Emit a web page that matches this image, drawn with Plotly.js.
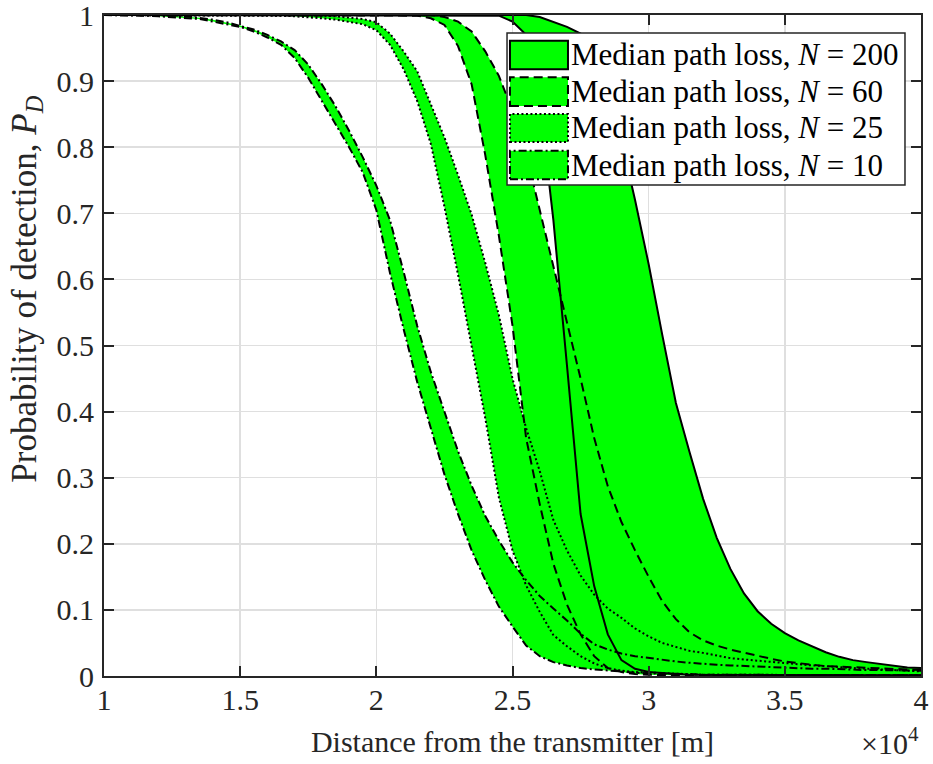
<!DOCTYPE html>
<html>
<head>
<meta charset="utf-8">
<script src="https://cdn.plot.ly/plotly-3.0.1.min.js"></script>
<style>
  html, body { margin: 0; padding: 0; background: #ffffff; }
  #chart { width: 933px; height: 764px; }
</style>
</head>
<body>
<div id="chart"></div>
<script>
// Distance from the transmitter [m]
const distance = [
  10000, 10500, 11000, 11500, 12000, 12500, 13000, 13500, 14000, 14500,
  15000, 15500, 16000, 16500, 17000, 17500, 18000, 18500, 19000, 19500,
  20000, 20500, 21000, 21500, 22000, 22500, 23000, 23500, 24000, 24500,
  25000, 25500, 26000, 26500, 27000, 27500, 28000, 28500, 29000, 29500,
  30000, 30500, 31000, 31500, 32000, 32500, 33000, 33500, 34000, 34500,
  35000, 35500, 36000, 36500, 37000, 37500, 38000, 38500, 39000, 39500,
  40000
];

// Probability of detection: lower / upper bound of each band
const pdLowN200 = [
  1.000, 1.000, 1.000, 1.000, 1.000, 1.000, 1.000, 1.000, 1.000, 1.000,
  1.000, 1.000, 1.000, 1.000, 1.000, 1.000, 1.000, 1.000, 1.000, 1.000,
  1.000, 1.000, 1.000, 1.000, 1.000, 1.000, 1.000, 1.000, 1.000, 0.999,
  0.990, 0.970, 0.870, 0.690, 0.470, 0.245, 0.136, 0.063, 0.024, 0.011,
  0.006, 0.004, 0.003, 0.002, 0.002, 0.002, 0.001, 0.001, 0.001, 0.001,
  0.001, 0.001, 0.001, 0.001, 0.001, 0.001, 0.001, 0.001, 0.001, 0.001,
  0.001
];
const pdHighN200 = [
  1.000, 1.000, 1.000, 1.000, 1.000, 1.000, 1.000, 1.000, 1.000, 1.000,
  1.000, 1.000, 1.000, 1.000, 1.000, 1.000, 1.000, 1.000, 1.000, 1.000,
  1.000, 1.000, 1.000, 1.000, 1.000, 1.000, 1.000, 1.000, 1.000, 1.000,
  1.000, 1.000, 0.997, 0.990, 0.982, 0.972, 0.945, 0.895, 0.810, 0.720,
  0.623, 0.516, 0.413, 0.339, 0.268, 0.209, 0.162, 0.125, 0.098, 0.079,
  0.065, 0.054, 0.045, 0.036, 0.029, 0.024, 0.021, 0.018, 0.015, 0.013,
  0.012
];

const pdLowN60 = [
  1.000, 1.000, 1.000, 1.000, 1.000, 1.000, 1.000, 1.000, 1.000, 1.000,
  1.000, 1.000, 1.000, 1.000, 1.000, 1.000, 1.000, 1.000, 1.000, 1.000,
  1.000, 1.000, 1.000, 0.999, 0.995, 0.985, 0.953, 0.895, 0.788, 0.666,
  0.530, 0.360, 0.260, 0.170, 0.108, 0.063, 0.030, 0.012, 0.006, 0.003,
  0.002, 0.001, 0.001, 0.001, 0.001, 0.001, 0.001, 0.001, 0.001, 0.001,
  0.001, 0.001, 0.001, 0.001, 0.001, 0.001, 0.001, 0.001, 0.001, 0.001,
  0.001
];
const pdHighN60 = [
  1.000, 1.000, 1.000, 1.000, 1.000, 1.000, 1.000, 1.000, 1.000, 1.000,
  1.000, 1.000, 1.000, 1.000, 1.000, 1.000, 1.000, 1.000, 1.000, 1.000,
  1.000, 1.000, 1.000, 1.000, 1.000, 0.997, 0.990, 0.975, 0.945, 0.908,
  0.855, 0.790, 0.705, 0.620, 0.535, 0.450, 0.360, 0.287, 0.233, 0.190,
  0.150, 0.113, 0.086, 0.066, 0.054, 0.046, 0.040, 0.035, 0.030, 0.026,
  0.022, 0.019, 0.017, 0.015, 0.014, 0.013, 0.012, 0.011, 0.010, 0.009,
  0.009
];

const pdLowN25 = [
  1.000, 1.000, 1.000, 1.000, 1.000, 1.000, 1.000, 1.000, 1.000, 1.000,
  1.000, 1.000, 0.999, 0.999, 0.998, 0.997, 0.995, 0.993, 0.990, 0.986,
  0.977, 0.955, 0.918, 0.870, 0.805, 0.710, 0.607, 0.500, 0.390, 0.270,
  0.190, 0.137, 0.097, 0.062, 0.045, 0.030, 0.019, 0.012, 0.008, 0.006,
  0.005, 0.004, 0.003, 0.003, 0.002, 0.002, 0.002, 0.002, 0.001, 0.001,
  0.001, 0.001, 0.001, 0.001, 0.001, 0.001, 0.001, 0.001, 0.001, 0.001,
  0.001
];
const pdHighN25 = [
  1.000, 1.000, 1.000, 1.000, 1.000, 1.000, 1.000, 1.000, 1.000, 1.000,
  1.000, 1.000, 1.000, 1.000, 0.999, 0.999, 0.999, 0.998, 0.996, 0.994,
  0.989, 0.972, 0.945, 0.915, 0.865, 0.815, 0.758, 0.698, 0.625, 0.546,
  0.450, 0.375, 0.310, 0.236, 0.190, 0.152, 0.123, 0.102, 0.088, 0.072,
  0.060, 0.050, 0.044, 0.038, 0.035, 0.031, 0.027, 0.025, 0.023, 0.021,
  0.019, 0.017, 0.016, 0.015, 0.013, 0.012, 0.011, 0.010, 0.009, 0.008,
  0.007
];

const pdLowN10 = [
  1.000, 1.000, 1.000, 0.999, 0.998, 0.997, 0.996, 0.994, 0.990, 0.986,
  0.982, 0.975, 0.966, 0.955, 0.935, 0.905, 0.870, 0.835, 0.800, 0.762,
  0.705, 0.610, 0.525, 0.445, 0.375, 0.305, 0.245, 0.190, 0.145, 0.105,
  0.075, 0.046, 0.030, 0.021, 0.016, 0.012, 0.010, 0.008, 0.006, 0.005,
  0.004, 0.004, 0.003, 0.003, 0.002, 0.002, 0.002, 0.002, 0.002, 0.001,
  0.001, 0.001, 0.001, 0.001, 0.001, 0.001, 0.001, 0.001, 0.001, 0.001,
  0.001
];
const pdHighN10 = [
  1.000, 1.000, 1.000, 1.000, 1.000, 0.999, 0.998, 0.996, 0.993, 0.989,
  0.984, 0.978, 0.970, 0.960, 0.947, 0.925, 0.895, 0.862, 0.825, 0.785,
  0.742, 0.690, 0.612, 0.530, 0.460, 0.400, 0.340, 0.288, 0.242, 0.205,
  0.172, 0.145, 0.121, 0.102, 0.084, 0.064, 0.048, 0.040, 0.034, 0.030,
  0.027, 0.024, 0.022, 0.020, 0.018, 0.017, 0.016, 0.015, 0.014, 0.013,
  0.013, 0.012, 0.011, 0.011, 0.010, 0.010, 0.009, 0.009, 0.009, 0.008,
  0.008
];

const bandLabels = [
  'Median path loss, <i>N</i> = 200',
  'Median path loss, <i>N</i> = 60',
  'Median path loss, <i>N</i> = 25',
  'Median path loss, <i>N</i> = 10'
];

const xTickValues = [10000, 15000, 20000, 25000, 30000, 35000, 40000];
const xTickLabels = ['1', '1.5', '2', '2.5', '3', '3.5', '4'];
const yTickValues = [0, 0.1, 0.2, 0.3, 0.4, 0.5, 0.6, 0.7, 0.8, 0.9, 1];
const yTickLabels = ['0', '0.1', '0.2', '0.3', '0.4', '0.5', '0.6', '0.7', '0.8', '0.9', '1'];

const xTitle = 'Distance from the transmitter [m]';
const yTitle = 'Probability of detection, <i>P</i><sub><i>D</i></sub>';

// ---- styling ----
const FILL = '#00ff00';
const INK = '#000000';
const AXIS = '#262626';
const FONT = 'Liberation Serif, Times New Roman, serif';
const dashes = ['solid', '9px,5px', '2px,2.5px', '8px,3px,2px,3px'];

const bands = [
  { low: pdLowN200, high: pdHighN200 },
  { low: pdLowN60,  high: pdHighN60 },
  { low: pdLowN25,  high: pdHighN25 },
  { low: pdLowN10,  high: pdHighN10 }
];

const traces = [];
// shaded regions first
bands.forEach((b, i) => {
  traces.push({
    type: 'scatter', mode: 'lines',
    x: distance.concat(distance.slice().reverse()),
    y: b.low.concat(b.high.slice().reverse()),
    fill: 'toself', fillcolor: FILL,
    line: { width: 0, color: FILL },
    hoverinfo: 'skip', showlegend: false, name: bandLabels[i]
  });
});
// boundary curves on top
bands.forEach((b, i) => {
  [b.low, b.high].forEach(arr => {
    traces.push({
      type: 'scatter', mode: 'lines',
      x: distance, y: arr,
      line: { color: INK, width: 2, dash: dashes[i] },
      hoverinfo: 'skip', showlegend: false
    });
  });
});

// ---- legend box (paper coordinates) ----
const legendBox = { x0: 0.4933, x1: 0.9804, y0: 0.7428, y1: 0.9728 };
const symX = [0.4969, 0.5679];
const rowsY = [[0.9179, 0.9611], [0.8623, 0.9057], [0.8079, 0.8502], [0.7514, 0.7947]];
const textX = 0.5695;

const shapes = [{
  type: 'rect', xref: 'paper', yref: 'paper', layer: 'above',
  x0: legendBox.x0, x1: legendBox.x1, y0: legendBox.y0, y1: legendBox.y1,
  fillcolor: '#ffffff', line: { color: AXIS, width: 1.5 }
}];
const annotations = [];
rowsY.forEach((r, i) => {
  shapes.push({
    type: 'rect', xref: 'paper', yref: 'paper', layer: 'above',
    x0: symX[0], x1: symX[1], y0: r[0], y1: r[1],
    fillcolor: FILL, line: { color: INK, width: 2, dash: dashes[i] }
  });
  annotations.push({
    xref: 'paper', yref: 'paper', x: textX, y: (r[0] + r[1]) / 2,
    xanchor: 'left', yanchor: 'middle', showarrow: false,
    text: bandLabels[i], font: { family: FONT, size: 31, color: INK }
  });
});
// axis exponent
annotations.push({
  xref: 'paper', yref: 'paper', x: 1.0, y: -0.13,
  xanchor: 'right', yanchor: 'bottom', showarrow: false,
  text: '\u00d710<sup>4</sup>', font: { family: FONT, size: 30, color: AXIS }
});
// vertical axis label
annotations.push({
  xref: 'paper', yref: 'paper', x: -0.095, y: 0.585,
  xanchor: 'center', yanchor: 'middle', textangle: -90, showarrow: false,
  text: yTitle, font: { family: FONT, size: 35, color: AXIS }
});

const axisCommon = {
  showline: true, linecolor: AXIS, linewidth: 2, mirror: 'ticks',
  ticks: 'inside', ticklen: 10, tickwidth: 2, tickcolor: AXIS,
  showgrid: true, gridcolor: '#dfdfdf', gridwidth: 1.5,
  zeroline: false, tickmode: 'array', ticklabeloverflow: 'allow',
  tickfont: { family: FONT, size: 30, color: AXIS }
};

const layout = {
  width: 933, height: 764,
  margin: { l: 104, r: 12, t: 15, b: 88 },
  paper_bgcolor: '#ffffff', plot_bgcolor: '#ffffff',
  showlegend: false,
  font: { family: FONT, size: 30, color: AXIS },
  xaxis: Object.assign({}, axisCommon, {
    range: [10000, 40000], tickvals: xTickValues, ticktext: xTickLabels,
    ticklabelstandoff: -4,
    title: { text: xTitle, font: { family: FONT, size: 30, color: AXIS }, standoff: 16 }
  }),
  yaxis: Object.assign({}, axisCommon, {
    range: [0, 1], tickvals: yTickValues, ticktext: yTickLabels,
    ticklabelstandoff: 2
  }),
  shapes: shapes,
  annotations: annotations
};

Plotly.newPlot('chart', traces, layout, { displayModeBar: false, staticPlot: true });
</script>
</body>
</html>
